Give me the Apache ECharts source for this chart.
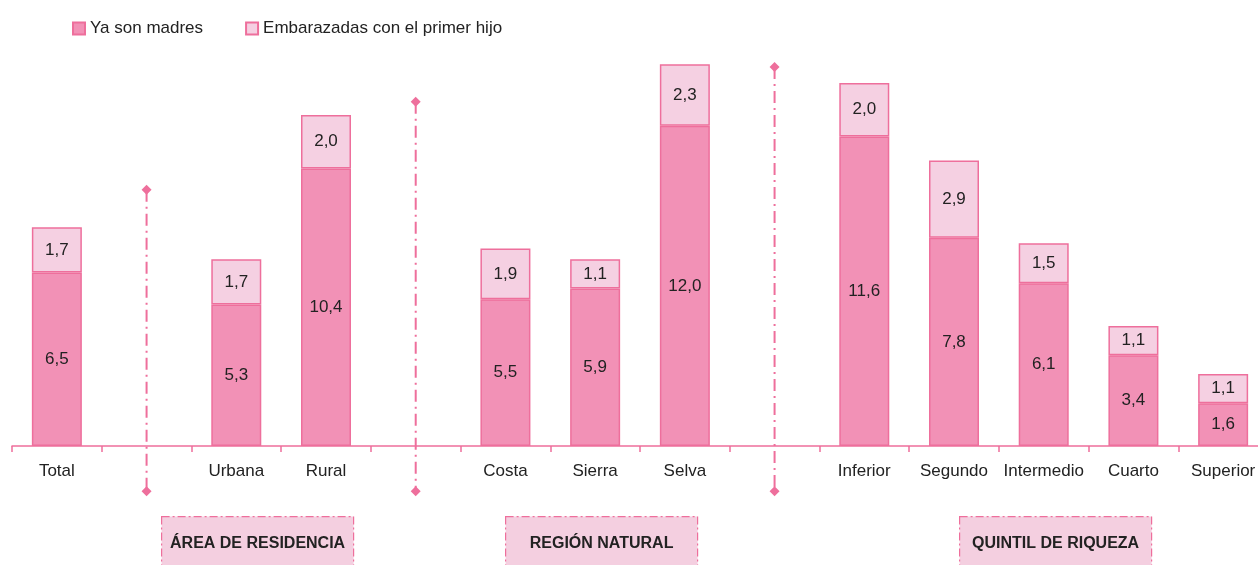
<!DOCTYPE html>
<html>
<head>
<meta charset="utf-8">
<script src="https://cdn.jsdelivr.net/npm/echarts@6/dist/echarts.min.js"></script>
<style>
html,body{margin:0;padding:0;background:#fff;}
#c{width:1258px;height:565px;}
</style>
</head>
<body>
<div id="c"></div>
<script>
const categories = ['Total', '', 'Urbana', 'Rural', '', 'Costa', 'Sierra', 'Selva', '', 'Inferior', 'Segundo', 'Intermedio', 'Cuarto', 'Superior'];
const yaSonMadres = [6.5, null, 5.3, 10.4, null, 5.5, 5.9, 12.0, null, 11.6, 7.8, 6.1, 3.4, 1.6];
const embarazadas = [1.7, null, 1.7, 2.0, null, 1.9, 1.1, 2.3, null, 2.0, 2.9, 1.5, 1.1, 1.1];
const seriesNames = ['Ya son madres', 'Embarazadas con el primer hijo'];
// separators: [category index, top value, bottom value]
const separators = [[1, 9.6, -1.7], [4, 12.9, -1.7], [8, 14.2, -1.7]];
const groupLabels = ['ÁREA DE RESIDENCIA', 'REGIÓN NATURAL', 'QUINTIL DE RIQUEZA'];

const FONT = "'Liberation Sans', Arial, sans-serif";
const PINK = '#ee6f9c';
const fmt = v => (v == null ? '' : v.toFixed(1).replace('.', ','));

const chart = echarts.init(document.getElementById('c'), null, {renderer: 'canvas'});

function diamond(cx, cy, r, color) {
  return {type: 'polygon', shape: {points: [[cx, cy - r], [cx + r, cy], [cx, cy + r], [cx - r, cy]]}, style: {fill: color}};
}

const boxes = [{x: 161, w: 192}, {x: 505, w: 192}, {x: 959, w: 192}];

chart.setOption({
  animation: false,
  textStyle: {fontFamily: FONT},
  legend: {
    left: 67, top: 15,
    itemWidth: 12, itemHeight: 12, itemGap: 42,
    icon: 'rect',
    textStyle: {fontFamily: FONT, fontSize: 17, color: '#222', padding: [0, 0, 0, 0]},
    data: seriesNames
  },
  grid: {left: 12, width: 1256, top: 19, bottom: 119, containLabel: false, outerBoundsMode: 'none'},
  xAxis: {
    type: 'category',
    data: categories,
    axisLine: {lineStyle: {color: PINK, width: 1.5}},
    axisTick: {show: true, length: 6, lineStyle: {color: PINK, width: 1.5}},
    axisLabel: {interval: 0, margin: 17, fontSize: 17, color: '#222', fontFamily: FONT}
  },
  yAxis: {type: 'value', min: 0, max: 16, show: false, splitLine: {show: false}},
  series: [
    {
      name: seriesNames[0], type: 'bar', stack: 's', barWidth: 50,
      data: yaSonMadres,
      itemStyle: {color: '#f291b6', borderColor: PINK, borderWidth: 1.5},
      label: {show: true, position: 'inside', fontSize: 17, color: '#222', fontFamily: FONT, formatter: p => fmt(p.value)}
    },
    {
      name: seriesNames[1], type: 'bar', stack: 's', barWidth: 50,
      data: embarazadas,
      itemStyle: {color: '#f5d0e2', borderColor: PINK, borderWidth: 1.5},
      label: {show: true, position: 'inside', fontSize: 17, color: '#222', fontFamily: FONT, formatter: p => fmt(p.value)}
    },
    {
      type: 'custom', clip: false, silent: true, z: 5,
      data: separators,
      renderItem: function (params, api) {
        const top = api.coord([api.value(0), api.value(1)]);
        const bot = api.coord([api.value(0), api.value(2)]);
        return {
          type: 'group',
          children: [
            {type: 'line', shape: {x1: top[0], y1: top[1], x2: bot[0], y2: bot[1]},
             style: {stroke: PINK, lineWidth: 2, lineDash: [12, 5, 2, 5]}},
            diamond(top[0], top[1], 5, PINK),
            diamond(bot[0], bot[1], 5, PINK)
          ]
        };
      }
    }
  ],
  graphic: boxes.map((b, i) => ({
    type: 'group', left: b.x, top: 516,
    children: [
      {type: 'rect', shape: {x: 0, y: 0, width: b.w, height: 60},
       style: {fill: '#f4cfe0', stroke: PINK, lineWidth: 1.2, lineDash: [8, 3, 2, 3]}},
      {type: 'text', x: b.w / 2, y: 27,
       style: {text: groupLabels[i], fill: '#222', font: "bold 16px " + FONT, align: 'center', verticalAlign: 'middle'}}
    ]
  }))
});
</script>
</body>
</html>
